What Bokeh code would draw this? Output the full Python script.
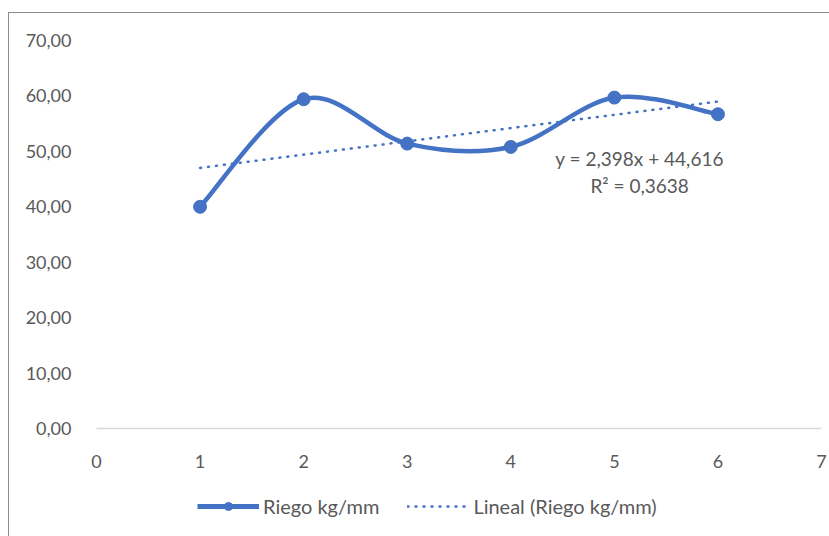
import numpy as np
from bokeh.plotting import figure
from bokeh.models import (FixedTicker, CustomJSTickFormatter, Legend, LegendItem, Label)
from bokeh.embed import file_html
from bokeh.resources import INLINE

# ---- data ----
x_vals = [1, 2, 3, 4, 5, 6]
riego = [40.0, 59.4, 51.4, 50.8, 59.7, 56.7]
x_ticks = [0, 1, 2, 3, 4, 5, 6, 7]
y_ticks = [0, 10, 20, 30, 40, 50, 60, 70]
series_name = "Riego kg/mm"
trend_name = "Lineal (Riego kg/mm)"
eq_text = "y = 2,398x + 44,616"
r2_text = "R² = 0,3638"

BLUE = "#4472C4"
GRAY = "#595959"
FONT = "Lato"
FS = "18px"

# frame spans from the 70 line down to the bottom of the picture; y=0 sits 108 px above bottom
PLOT_PX = 388
BELOW_PX = 108
y_lo = -70.0 * BELOW_PX / PLOT_PX
# frame a bit wider than 0..7 so edge tick labels are not clipped
UNIT_PX = 725 / 7.0
x_lo = -16 / UNIT_PX
x_hi = 7 + 8 / UNIT_PX

p = figure(frame_width=749, frame_height=PLOT_PX + BELOW_PX, x_range=(x_lo, x_hi), y_range=(y_lo, 70),
           output_backend="svg", toolbar_location=None,
           min_border_left=71, min_border_right=0, min_border_top=27, min_border_bottom=0)
p.styles = {"margin-left": "8px", "margin-top": "12px",
            "border-left": "1px solid #8c8c8c", "border-top": "1px solid #8c8c8c"}

p.xgrid.grid_line_color = None
p.ygrid.grid_line_color = None
p.outline_line_color = None

# smoothed line (Catmull-Rom style Bezier through data points)
xa = np.array(x_vals, dtype=float)
ya = np.array(riego, dtype=float)
P = np.column_stack([xa, ya])
Pe = np.vstack([P[0], P, P[-1]])
n = len(P)
c0 = P[:-1] + (Pe[2:n + 1] - Pe[0:n - 1]) / 6.0
c1 = P[1:] - (Pe[3:n + 2] - Pe[1:n]) / 6.0
p.bezier(x0=xa[:-1], y0=ya[:-1], x1=xa[1:], y1=ya[1:],
         cx0=c0[:, 0], cy0=c0[:, 1], cx1=c1[:, 0], cy1=c1[:, 1],
         line_color=BLUE, line_width=4.5, line_cap="round")

# linear trendline from least squares fit of the data
coef = np.polyfit(xa, ya, 1)
tx = np.array([xa[0], xa[-1]])
ty = np.polyval(coef, tx)
trend_r = p.line(tx, ty, line_color=BLUE, line_width=2.5, line_dash="1 7", line_cap="round")

pts = p.scatter(x_vals, riego, size=13, fill_color=BLUE, line_color=BLUE)
# legend-only line (single NaN point draws nothing on the plot)
legend_line = p.line(x=[np.nan], y=[np.nan], line_color=BLUE, line_width=5)

p.add_layout(Label(x=5.244, y=48.7, text=eq_text, text_align="center", text_baseline="middle",
                   text_font=FONT, text_font_size="19px", text_color=GRAY))
p.add_layout(Label(x=5.244, y=43.8, text=r2_text, text_align="center", text_baseline="middle",
                   text_font=FONT, text_font_size="19px", text_color=GRAY))

# axes
p.xaxis.ticker = FixedTicker(ticks=x_ticks)
p.xaxis.fixed_location = 0
p.xaxis.bounds = (x_ticks[0], x_ticks[-1])
p.yaxis.ticker = FixedTicker(ticks=y_ticks)
p.yaxis.bounds = (y_ticks[0], y_ticks[-1])
p.yaxis.formatter = CustomJSTickFormatter(code="return tick.toFixed(2).replace('.', ',');")
for ax in (p.xaxis, p.yaxis):
    ax.major_tick_line_color = None
    ax.minor_tick_line_color = None
    ax.major_label_text_font = FONT
    ax.major_label_text_font_size = FS
    ax.major_label_text_color = GRAY
p.xaxis.axis_line_color = "#D9D9D9"
p.xaxis.axis_line_width = 1.5
p.xaxis.major_label_standoff = 20
p.yaxis.axis_line_color = None
p.yaxis.major_label_standoff = 3

legend = Legend(items=[LegendItem(label=series_name, renderers=[legend_line, pts]),
                       LegendItem(label=trend_name, renderers=[trend_r])],
                orientation="horizontal", location=(117, 18),
                label_text_font=FONT, label_text_font_size="20px", label_text_color=GRAY,
                glyph_width=62, glyph_height=20, spacing=28, label_standoff=4,
                border_line_color=None, background_fill_alpha=0, margin=0, padding=5)
p.add_layout(legend, "center")

open("out.html", "w").write(file_html(p, INLINE))
